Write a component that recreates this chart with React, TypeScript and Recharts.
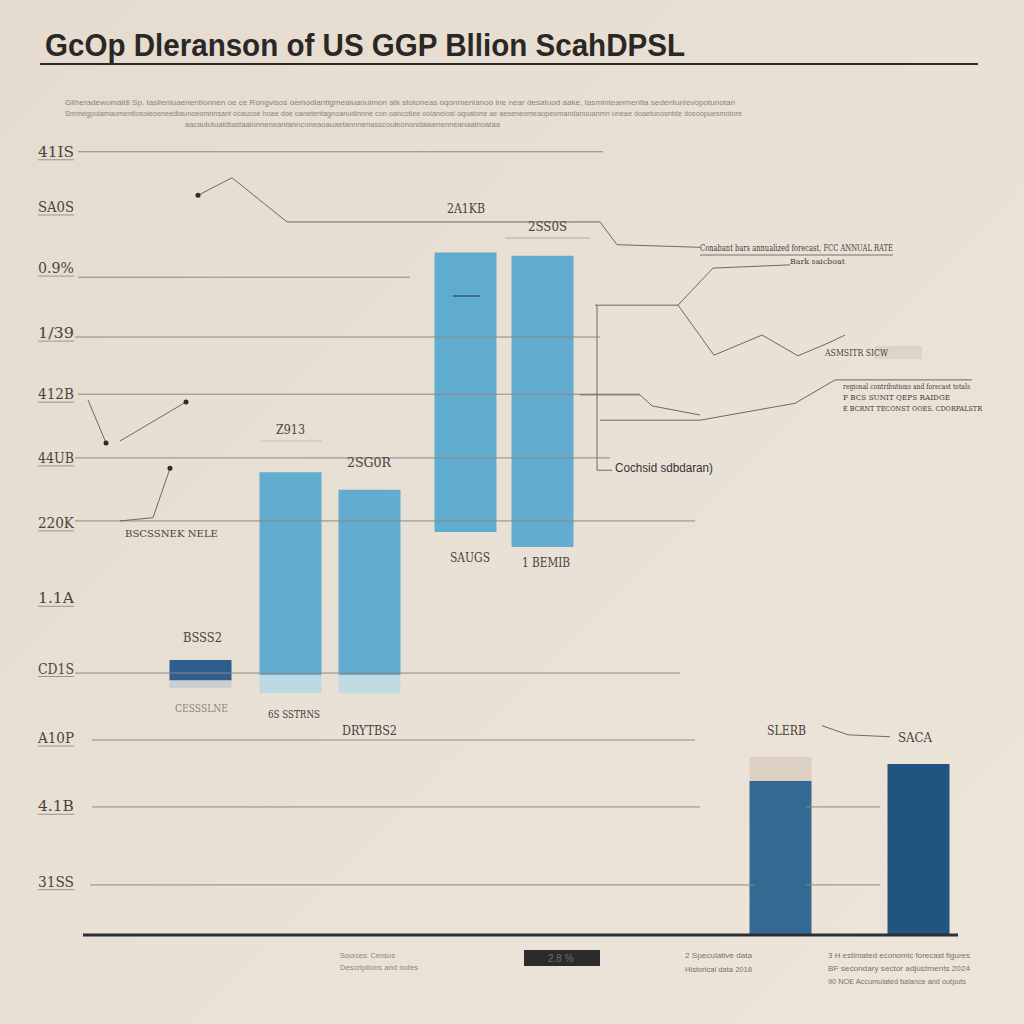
import {
  ComposedChart,
  Bar,
  Line,
  Scatter,
  XAxis,
  YAxis,
  ReferenceLine,
  Cell,
} from "recharts";

// bars: centre on the x scale, floating low/high ends, faded foot and pale cap
const barX = [13.1, 22.1, 30.0, 39.6, 47.3, 71.1, 84.9];
const barLow = [3.92, 4.0, 4.0, 6.2, 5.97, 0, 0];
const barHigh = [4.23, 7.12, 6.85, 10.5, 10.45, 2.37, 2.63];
const barFade = [0.12, 0.28, 0.28, 0, 0, 0, 0];
const barCap = [0, 0, 0, 0, 0, 0.37, 0];
const barColors = ["#2f5d8c", "#62adcf", "#62adcf", "#60accf", "#62adcf", "#346a92", "#1f5580"];
const fadeColors = ["#cbcfd0", "#bcd9e3", "#c0dbe3", "#fff", "#fff", "#fff", "#fff"];

const tickValues = [0.82, 1.98, 3.03, 4.1, 5.18, 6.34, 7.34, 8.32, 9.26, 10.26, 11.2, 12.05];
const tickLabels = ["31SS", "4.1B", "A10P", "CD1S", "1.1A", "220K", "44UB", "412B", "1/39", "0.9%", "SA0S", "41IS"];

// horizontal rules: level, start, end
const gridY = [12.05, 10.12, 9.2, 8.32, 7.34, 6.37, 4.03, 3.0, 1.97, 1.97, 0.77, 0.77];
const gridFrom = [0.8, 0.8, 0.5, 0.8, 0.5, 0.5, 0.5, 2.2, 2.2, 73.6, 2.0, 73.6];
const gridTo = [53.3, 34, 53, 57, 54, 62.5, 61, 62.5, 63, 81, 68.5, 81];

// thin annotation traces
const traceA = [
  { x: 12.8, y: 11.38 }, { x: 16.2, y: 11.65 }, { x: 21.7, y: 10.97 },
  { x: 53, y: 10.97 }, { x: 54.7, y: 10.62 }, { x: 63, y: 10.58 },
];
const traceB1 = [{ x: 52.5, y: 9.69 }, { x: 60.8, y: 9.69 }, { x: 64.3, y: 10.26 }, { x: 72, y: 10.31 }];
const traceB2 = [
  { x: 60.8, y: 9.69 }, { x: 64.4, y: 8.92 }, { x: 69.2, y: 9.23 },
  { x: 72.8, y: 8.91 }, { x: 76, y: 9.12 }, { x: 77.5, y: 9.23 },
];
const traceC1 = [{ x: 1.8, y: 8.23 }, { x: 3.6, y: 7.57 }];
const traceC2 = [{ x: 5, y: 7.6 }, { x: 11.6, y: 8.2 }];
const traceD = [{ x: 10, y: 7.18 }, { x: 8.3, y: 6.42 }, { x: 5, y: 6.37 }];
const traceE1 = [{ x: 51, y: 8.31 }, { x: 57, y: 8.31 }, { x: 58.2, y: 8.14 }, { x: 63, y: 8.0 }];
const traceE2 = [{ x: 53, y: 7.92 }, { x: 63, y: 7.92 }, { x: 72.5, y: 8.18 }, { x: 76.5, y: 8.54 }, { x: 90.2, y: 8.54 }];
const traceF = [{ x: 52.7, y: 9.69 }, { x: 52.7, y: 7.15 }, { x: 54.2, y: 7.15 }];
const traceG = [{ x: 75.2, y: 3.22 }, { x: 77.8, y: 3.08 }, { x: 82, y: 3.05 }];
const dots = [{ x: 12.8, y: 11.38 }, { x: 3.6, y: 7.57 }, { x: 11.6, y: 8.2 }, { x: 10, y: 7.18 }];

const traces = [traceA, traceB1, traceB2, traceC1, traceC2, traceD, traceE1, traceE2, traceF, traceG];

const barData = barX.map((x, i) => ({
  x,
  base: barLow[i] - barFade[i],
  fade: barFade[i],
  main: barHigh[i] - barLow[i],
  cap: barCap[i],
}));

const serif = "DejaVu Serif";
const sans = "Liberation Sans";

// free-floating labels round the plot
const notes = [
  { t: "2A1KB", x: 447, y: 213, w: 38, s: 12 },
  { t: "2SS0S", x: 528, y: 231, w: 39, s: 12 },
  { t: "Z913", x: 276, y: 434, w: 29, s: 12 },
  { t: "2SG0R", x: 347, y: 467, w: 44, s: 12 },
  { t: "BSCSSNEK NELE", x: 125, y: 537, w: 93, s: 10 },
  { t: "SAUGS", x: 450, y: 562, w: 40, s: 12 },
  { t: "1 BEMIB", x: 522, y: 567, w: 48, s: 12 },
  { t: "BSSS2", x: 183, y: 642, w: 39, s: 12 },
  { t: "CESSSLNE", x: 175, y: 712, w: 53, s: 11, f: "#8a847e" },
  { t: "6S SSTRNS", x: 268, y: 718, w: 52, s: 11 },
  { t: "DRYTBS2", x: 342, y: 735, w: 55, s: 12 },
  { t: "SLERB", x: 767, y: 735, w: 39, s: 12 },
  { t: "SACA", x: 898, y: 742, w: 34, s: 12 },
  { t: "ASMSITR SICW", x: 825, y: 356, w: 63, s: 9 },
  { t: "Conabant bars annualized forecast, FCC ANNUAL RATE", x: 700, y: 251, w: 193, s: 9 },
  { t: "Bark saicboat", x: 790, y: 264, w: 55, s: 8 },
  { t: "regional contributions and forecast totals", x: 843, y: 389, w: 127, s: 8 },
  { t: "F BCS SUNIT QEPS RAIDGE", x: 843, y: 400, w: 107, s: 8 },
  { t: "E BCRNT TECONST OOES. CDORPALSTR", x: 843, y: 411, w: 139, s: 8 },
];

const sansNotes = [
  { t: "Cochsid sdbdaran)", x: 615, y: 472, w: 98, s: 12, f: "#333" },
  { t: "Sources: Census", x: 340, y: 958, w: 55, s: 8, f: "#8a837c" },
  { t: "Descriptions and notes", x: 340, y: 970, w: 78, s: 8, f: "#8a837c" },
  { t: "2 Speculative data", x: 685, y: 958, w: 67, s: 8, f: "#77716b" },
  { t: "Historical data 2018", x: 685, y: 972, w: 67, s: 8, f: "#77716b" },
  { t: "3 H estimated economic forecast figures", x: 828, y: 958, w: 142, s: 8, f: "#77716b" },
  { t: "BF secondary sector adjustments 2024", x: 828, y: 971, w: 142, s: 8, f: "#77716b" },
  { t: "90 NOE Accumulated balance and outputs", x: 828, y: 984, w: 138, s: 8, f: "#77716b" },
  {
    t: "Gliheradewumaldl Sp. taslleniuaenentionnen oe ce Rongvisos oemodiantigmeaiuanulmon atk stotoneas oqonmenianoo ine near desatuod aake, tasminteanmentia sedentunlevopotunotan",
    x: 65, y: 105, w: 670, s: 8, f: "#8b837b",
  },
  {
    t: "Smmegpolamaumentiosoleoeneedtaunoeomnnsant ocaucoe hoae doe oanetentagnoanudinnne con oancotiee ooianeiosi oqoatone ae aeseneomeaopeomandanuuanmn uneae doaetunosntde dosoopuesmotore",
    x: 65, y: 116, w: 677, s: 8, f: "#8b837b",
  },
  {
    t: "aacaulutuatdtastaaionneneantannconeaoauaetannnenasscouleonondaiaenenneanaatnoataa",
    x: 185, y: 127, w: 315, s: 8, f: "#8b837b",
  },
];

const YTick = (props: any) => {
  const { x, y, payload } = props;
  const label = tickLabels[tickValues.indexOf(payload.value)];
  return (
    <g>
      <text
        x={x + 12}
        y={y}
        dy={5}
        textAnchor="end"
        fontFamily={serif}
        fontSize={14}
        fill="#4a4440"
        textLength={36}
        lengthAdjust="spacingAndGlyphs"
      >
        {label}
      </text>
      <line x1={x - 24} x2={x + 12} y1={y + 8} y2={y + 8} stroke="#9c948c" strokeWidth={1} />
    </g>
  );
};

const App = () => {
  return (
    <div
      style={{
        position: "absolute",
        left: 0,
        top: 0,
        width: 1024,
        height: 1024,
        background: "linear-gradient(135deg, #e5dbce 0%, #eae1d6 55%, #ede5da 100%)",
        overflow: "hidden",
      }}
    >
      <ComposedChart
        width={1024}
        height={1024}
        data={barData}
        margin={{ top: 142, right: 44, bottom: 89, left: 0 }}
        style={{ position: "absolute", left: 0, top: 0 }}
      >
        <XAxis xAxisId="bars" dataKey="x" type="number" domain={[0, 91]} hide />
        <XAxis xAxisId="ann" dataKey="x" type="number" domain={[0, 91]} hide allowDataOverflow />
        <YAxis
          type="number"
          domain={[0, 12.2]}
          ticks={tickValues}
          width={70}
          axisLine={false}
          tickLine={false}
          tick={<YTick />}
          allowDataOverflow
        />
        {gridY.map((y, i) => (
          <ReferenceLine
            key={"g" + i}
            xAxisId="ann"
            segment={[{ x: gridFrom[i], y }, { x: gridTo[i], y }]}
            stroke="#8e8780"
            strokeWidth={1}
            ifOverflow="visible"
          />
        ))}
        <Bar xAxisId="bars" dataKey="base" stackId="s" fill="transparent" barSize={62} isAnimationActive={false} />
        <Bar xAxisId="bars" dataKey="fade" stackId="s" barSize={62} isAnimationActive={false}>
          {barData.map((_, i) => (
            <Cell key={"f" + i} fill={fadeColors[i]} />
          ))}
        </Bar>
        <Bar xAxisId="bars" dataKey="main" stackId="s" barSize={62} isAnimationActive={false}>
          {barData.map((_, i) => (
            <Cell key={"m" + i} fill={barColors[i]} />
          ))}
        </Bar>
        <Bar xAxisId="bars" dataKey="cap" stackId="s" fill="#dcd0c3" barSize={62} isAnimationActive={false} />
        {traces.map((t, i) => (
          <Line
            key={"t" + i}
            xAxisId="ann"
            data={t}
            dataKey="y"
            type="linear"
            stroke="#6f6861"
            strokeWidth={1}
            dot={false}
            activeDot={false}
            isAnimationActive={false}
          />
        ))}
        <Scatter
          xAxisId="ann"
          data={dots}
          dataKey="y"
          isAnimationActive={false}
          shape={(p: any) => <circle cx={p.cx} cy={p.cy} r={2.5} fill="#2f2b28" />}
        />
        <ReferenceLine
          xAxisId="ann"
          segment={[{ x: 1.3, y: 0 }, { x: 88.8, y: 0 }]}
          stroke="#2a2f38"
          strokeWidth={3}
          ifOverflow="visible"
        />
      </ComposedChart>

      <svg
        width={1024}
        height={1024}
        style={{ position: "absolute", left: 0, top: 0, pointerEvents: "none" }}
      >
        <text
          x={45}
          y={56}
          fontFamily={sans}
          fontWeight="bold"
          fontSize={31}
          fill="#2a2826"
          textLength={640}
          lengthAdjust="spacingAndGlyphs"
        >
          GcOp Dleranson of US GGP Bllion ScahDPSL
        </text>
        <line x1={40} x2={978} y1={64} y2={64} stroke="#2e2c2a" strokeWidth={2} />

        {/* small underlines and marks around the labels */}
        <line x1={505} x2={590} y1={238} y2={238} stroke="#b3aba3" />
        <line x1={700} x2={893} y1={255} y2={255} stroke="#7a736c" />
        <line x1={260} x2={322} y1={441} y2={441} stroke="#c9c0b6" />
        <line x1={453} x2={480} y1={296} y2={296} stroke="#3b6d92" strokeWidth={2} />
        <rect x={875} y={346} width={47} height={13} fill="#ddd3c8" />
        <rect x={524} y={950} width={76} height={16} fill="#2b2b2b" />
        <text x={548} y={962} fontFamily={sans} fontSize={10} fill="#6d6d6d">
          2.8 %
        </text>

        {notes.map((n, i) => (
          <text
            key={"n" + i}
            x={n.x}
            y={n.y}
            fontFamily={serif}
            fontSize={n.s}
            fill={n.f || "#47423d"}
            textLength={n.w}
            lengthAdjust="spacingAndGlyphs"
          >
            {n.t}
          </text>
        ))}
        {sansNotes.map((n, i) => (
          <text
            key={"s" + i}
            x={n.x}
            y={n.y}
            fontFamily={sans}
            fontSize={n.s}
            fill={n.f}
            textLength={n.w}
            lengthAdjust="spacingAndGlyphs"
          >
            {n.t}
          </text>
        ))}
      </svg>
    </div>
  );
};

export default App;
